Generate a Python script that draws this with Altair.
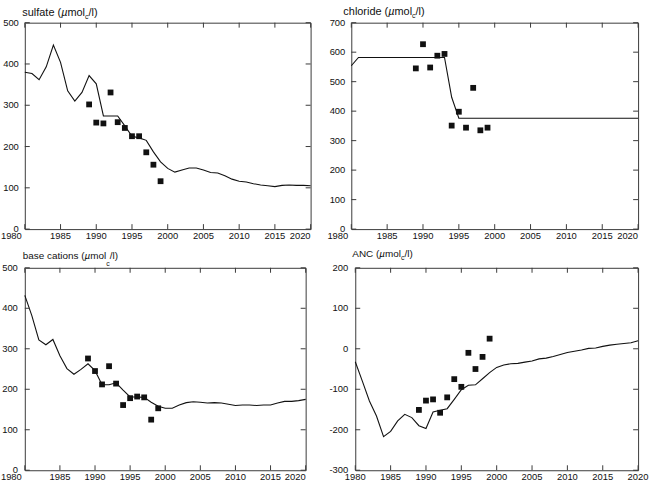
import altair as alt
import pandas as pd

# ---- data -------------------------------------------------------------
years = list(range(1980, 2021))
obs_years = list(range(1989, 2000))

sulfate_model = [380, 377, 362, 393, 446, 404, 335, 310, 331, 372,
                 352, 274, 274, 274, 250, 225, 221, 215, 187, 163,
                 147, 138, 143, 148, 148, 143, 137, 136, 129, 121,
                 116, 114, 110, 107, 105, 103, 106, 107, 106, 106,
                 105]
sulfate_obs = [302, 258, 256, 331, 259, 245, 225, 225, 186, 156, 116]

chloride_model = [554] + [582] * 13 + [447] + [376] * 26
chloride_obs = [545, 627, 548, 588, 594, 351, 398, 344, 479, 335, 344]

base_model = [432, 382, 322, 310, 323, 283, 251, 237, 249, 263,
              246, 211, 211, 216, 198, 181, 181, 180, 168, 158,
              153, 153, 161, 167, 169, 168, 166, 167, 166, 163,
              160, 161, 161, 160, 161, 161, 166, 170, 170, 172,
              175]
base_obs = [276, 245, 212, 257, 214, 161, 178, 182, 180, 125, 153]

anc_model = [-32, -80, -129, -166, -217, -204, -178, -162, -170, -190,
             -197, -156, -152, -148, -125, -101, -90, -89, -74, -59,
             -46, -40, -37, -36, -33, -30, -25, -23, -19, -14,
             -9, -6, -3, 1, 2, 6, 9, 11, 13, 15,
             20]
anc_obs = [-151, -128, -125, -158, -120, -75, -94, -10, -50, -20, 25]

x_ticks = list(range(1980, 2021, 5))

# ---- styling ----------------------------------------------------------
FONT = "Liberation Sans"
INK = "#111111"
FRAME = "#3a3a3a"
TICK = 5
LABEL_SIZE = 9.5

# Arial/Liberation Sans advance widths (per 1000 em) for the title glyphs
ADV = {" ": 278, "(": 333, ")": 333, "/": 278, "A": 667, "C": 722, "N": 722,
       "a": 556, "b": 556, "c": 500, "d": 556, "e": 556, "f": 278, "h": 556,
       "i": 222, "l": 222, "m": 833, "n": 556, "o": 556, "r": 333, "s": 500,
       "t": 278, "u": 556, "µ": 576}


def text_width(s, size):
    return sum(ADV.get(ch, 556) for ch in s) * size / 1000.0


def X(scale=None):
    if scale is None:
        return alt.X("year:Q", axis=None)
    return alt.X("year:Q", axis=None, scale=scale)


def Y(scale=None):
    if scale is None:
        return alt.Y("value:Q", axis=None)
    return alt.Y("value:Q", axis=None, scale=scale)


def title_marks(name, x0, base, size, sub_size, sub_drop):
    """Panel heading 'name (µmol_c/l)' built from pieces so the c sits low."""
    pieces = [(name + " (", "normal", size, 0),
              ("µ", "italic", size, 0),
              ("mol", "normal", size, 0),
              ("c", "normal", sub_size, sub_drop),
              ("/l)", "normal", size, 0)]
    marks = []
    x = x0
    for txt, style, fs, drop in pieces:
        marks.append(
            alt.Chart(pd.DataFrame({"t": [txt]}))
            .mark_text(align="left", baseline="alphabetic", font=FONT,
                       fontSize=fs, fontStyle=style, color=INK)
            .encode(text="t:N", x=alt.value(x), y=alt.value(base + drop))
        )
        x += text_width(txt, fs)
    return marks


def x_labels(h, ends_right, first_off):
    """Year labels under the frame; end labels optionally set right-aligned."""
    def lab(vals, align, dx):
        return (alt.Chart(pd.DataFrame({"year": vals, "lab": [str(v) for v in vals]}))
                .mark_text(align=align, baseline="top", dx=dx, font=FONT,
                           fontSize=LABEL_SIZE, color=INK)
                .encode(x=X(), y=alt.value(h + 2), text="lab:N"))
    if not ends_right:
        return [lab(x_ticks, "center", 0)]
    return [lab(x_ticks[1:-1], "center", 0),
            lab(x_ticks[:1], "right", first_off),
            lab(x_ticks[-1:], "right", 0)]


def panel(model, obs, domain, y_ticks, w, h, y_pad, ends_right, first_off, title):
    xs = alt.Scale(domain=[1980, 2020], nice=False, zero=False)
    ys = alt.Scale(domain=domain, nice=False, zero=False)

    line = (alt.Chart(pd.DataFrame({"year": years, "value": model}))
            .mark_line(color=INK, strokeWidth=1.1)
            .encode(x=X(xs), y=Y(ys)))
    points = (alt.Chart(pd.DataFrame({"year": obs_years, "value": obs}))
              .mark_square(size=34, color=INK, opacity=1, filled=True)
              .encode(x=X(), y=Y()))

    # inward tick marks on all four sides of the frame
    xt = alt.Chart(pd.DataFrame({"year": x_ticks})).mark_rule(color=FRAME, strokeWidth=1)
    yt = alt.Chart(pd.DataFrame({"value": y_ticks})).mark_rule(color=FRAME, strokeWidth=1)
    ticks = [
        xt.encode(x=X(), y=alt.value(h), y2=alt.value(h - TICK)),
        xt.encode(x=X(), y=alt.value(0), y2=alt.value(TICK)),
        yt.encode(y=Y(), x=alt.value(0), x2=alt.value(TICK)),
        yt.encode(y=Y(), x=alt.value(w - TICK), x2=alt.value(w)),
    ]

    y_lab = (alt.Chart(pd.DataFrame({"value": y_ticks, "lab": [str(v) for v in y_ticks]}))
             .mark_text(align="right", baseline="middle", font=FONT,
                        fontSize=LABEL_SIZE, color=INK)
             .encode(y=Y(), x=alt.value(-y_pad), text="lab:N"))

    layers = [line, points] + ticks + [y_lab] + x_labels(h, ends_right, first_off) + title
    return alt.layer(*layers).properties(width=w, height=h)


sulfate = panel(sulfate_model, sulfate_obs, [0, 500], list(range(0, 501, 100)),
                288, 208, 6, True, -3,
                title_marks("sulfate", -2.5, -7, 11, 7, 3))
chloride = panel(chloride_model, chloride_obs, [0, 700], list(range(0, 701, 100)),
                 289, 208, 6, True, -3,
                 title_marks("chloride", -8, -7.3, 11, 7, 3))
base = panel(base_model, base_obs, [0, 500], list(range(0, 501, 100)),
             283, 204, 7, True, -3,
             title_marks("base cations", -2, -8.7, 10, 7, 7))
anc = panel(anc_model, anc_obs, [-300, 200], list(range(-300, 201, 100)),
            285, 204, 7, False, 0,
            title_marks("ANC", -3, -11, 10, 7, 3))

chart = (
    alt.vconcat(
        alt.hconcat(sulfate, chloride, spacing=13),
        alt.hconcat(base, anc, spacing=20),
        spacing=7,
    )
    .properties(padding={"left": 0, "top": 4, "right": 0, "bottom": 0},
                background="white")
    .configure_view(stroke=FRAME, strokeWidth=1)
)

chart.save("out.html", embed_options={"renderer": "svg", "actions": False})
